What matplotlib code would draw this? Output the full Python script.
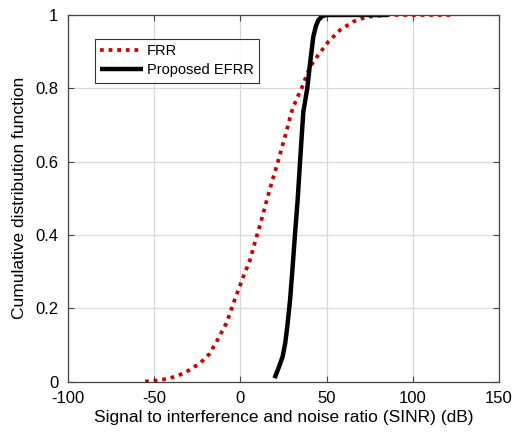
import matplotlib
matplotlib.use("Agg")
import matplotlib.pyplot as plt

# FRR (red dotted) CDF points
frr_sinr = [-55.3, -48, -42, -36, -30, -23.4, -18, -13.8, -8, -4.1, 1.7, 5.6, 8.5,
            11.4, 15.3, 18.5, 21.8, 26, 29.7, 32.5, 35.5, 40.4, 45.2, 51, 57.8, 65.5,
            73.3, 85, 100, 123.5]
frr_cdf = [0.0, 0.003, 0.008, 0.016, 0.03, 0.05, 0.075, 0.109, 0.16, 0.213, 0.286, 0.332, 0.381,
           0.427, 0.495, 0.548, 0.6, 0.67, 0.736, 0.77, 0.8, 0.859, 0.891, 0.927, 0.959, 0.982,
           0.995, 1.0, 1.0, 1.0]

# Proposed EFRR (black solid)
efrr_sinr = [19.8, 22, 24.5, 26, 27.2, 28.8, 30.3, 31.7, 33.2, 34.6, 36.5, 38.8, 40.4, 42.3,
             43.8, 45.2, 47.5, 50, 60, 85.8]
efrr_cdf = [0.009, 0.035, 0.068, 0.105, 0.15, 0.222, 0.313, 0.404, 0.495, 0.6, 0.736, 0.8,
            0.868, 0.941, 0.97, 0.986, 0.997, 1.0, 1.0, 1.0]

plt.rcParams["font.family"] = ["Liberation Sans Narrow", "Liberation Sans", "DejaVu Sans"]
plt.rcParams["axes.unicode_minus"] = False

fig = plt.figure(figsize=(5.14, 4.42), dpi=100)
ax = fig.add_axes([68 / 514, 1 - 381.5 / 442, 431 / 514, 366.5 / 442])

ax.plot(frr_sinr, frr_cdf, linestyle=(0, (1, 1.3)), color="#cc0000", linewidth=2.7, label="FRR")
ax.plot(efrr_sinr, efrr_cdf, "-", color="black", linewidth=3.2, label="Proposed EFRR",
        solid_capstyle="butt")

ax.set_xlim(-100, 150)
ax.set_ylim(0, 1)
ax.set_xticks([-100, -50, 0, 50, 100, 150])
ax.set_yticks([0, 0.2, 0.4, 0.6, 0.8, 1])
ax.set_yticklabels(["0", "0.2", "0.4", "0.6", "0.8", "1"])
ax.tick_params(direction="in", top=True, right=True, labelsize=12, length=4, color="#444444")
ax.tick_params(axis="x", pad=7)
ax.tick_params(axis="y", pad=7)
ax.grid(True, color="#d9d9d9", linewidth=0.9)
ax.set_axisbelow(True)
for spine in ax.spines.values():
    spine.set_color("#444444")
    spine.set_linewidth(0.9)

ax.set_xlabel("Signal to interference and noise ratio (SINR) (dB)", fontsize=12.5, labelpad=3)
ax.set_ylabel("Cumulative distribution function", fontsize=12.5, labelpad=6)

leg = ax.legend(loc="upper left", bbox_to_anchor=(0.063, 0.934), fontsize=10.5,
                frameon=True, fancybox=False, edgecolor="black", handlelength=2.9,
                borderpad=0.35, labelspacing=0.35, handletextpad=0.3, borderaxespad=0)
leg.get_frame().set_linewidth(0.8)

fig.savefig("out.png", dpi=100)
